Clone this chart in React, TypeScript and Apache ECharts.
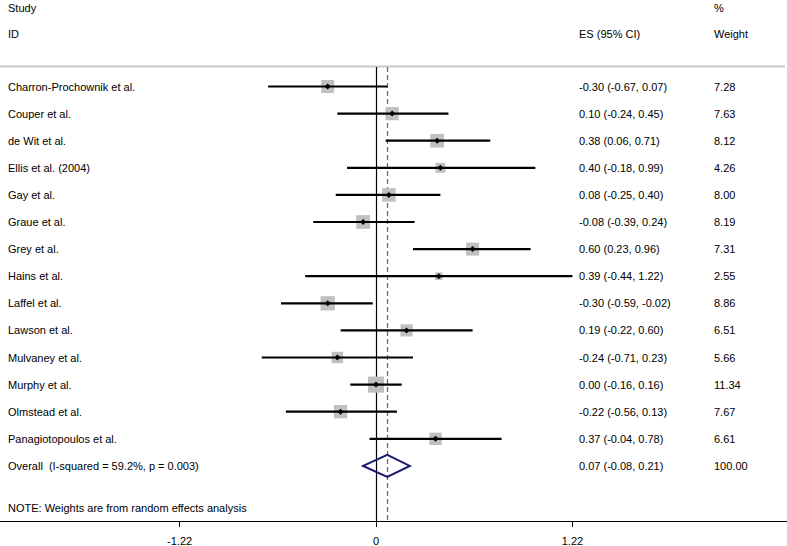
import React, { useEffect, useRef } from "react";
import * as echarts from "echarts";

const studies = [
  "Charron-Prochownik et al.",
  "Couper et al.",
  "de Wit et al.",
  "Ellis et al. (2004)",
  "Gay et al.",
  "Graue et al.",
  "Grey et al.",
  "Hains et al.",
  "Laffel et al.",
  "Lawson et al.",
  "Mulvaney et al.",
  "Murphy et al.",
  "Olmstead et al.",
  "Panagiotopoulos et al.",
];
const es = [-0.3, 0.1, 0.38, 0.4, 0.08, -0.08, 0.6, 0.39, -0.3, 0.19, -0.24, 0.0, -0.22, 0.37];
const lo = [-0.67, -0.24, 0.06, -0.18, -0.25, -0.39, 0.23, -0.44, -0.59, -0.22, -0.71, -0.16, -0.56, -0.04];
const hi = [0.07, 0.45, 0.71, 0.99, 0.4, 0.24, 0.96, 1.22, -0.02, 0.6, 0.23, 0.16, 0.13, 0.78];
const weights = [7.28, 7.63, 8.12, 4.26, 8.0, 8.19, 7.31, 2.55, 8.86, 6.51, 5.66, 11.34, 7.67, 6.61];

const overallLabel = "Overall  (I-squared = 59.2%, p = 0.003)";
const overallEs = 0.07;
const overallLo = -0.08;
const overallHi = 0.21;
const overallWeight = 100.0;

const xTicks = [-1.22, 0, 1.22];

const FONT = '11px "Liberation Sans", Arial, sans-serif';
const COL_NAME = 8;
const COL_ES = 579;
const COL_W = 714;

const fmtCI = (e: number, l: number, h: number) =>
  `${e.toFixed(2)} (${l.toFixed(2)}, ${h.toFixed(2)})`;

export default function App() {
  const ref = useRef<HTMLDivElement>(null);
  useEffect(() => {
    if (!ref.current) return;
    const chart = echarts.init(ref.current, null, { renderer: "svg" });

    const studyData = studies.map((s, i) => [es[i], i, lo[i], hi[i], weights[i]]);
    const overallData = [[overallEs, studies.length, overallLo, overallHi, overallWeight]];

    const txt = (x: number, y: number, text: string) => ({
      type: "text",
      style: { x, y, text, font: FONT, fill: "#000", verticalAlign: "middle", align: "left" },
    });

    const option: any = {
      animation: false,
      grid: { left: 0, right: 0, top: 67, bottom: 25 },
      xAxis: {
        type: "value",
        min: -376 / 161,
        max: 411 / 161,
        splitLine: { show: false },
        axisLine: { show: true, onZero: false, lineStyle: { color: "#000", width: 1 } },
        axisTick: { show: true, customValues: xTicks, length: 6, lineStyle: { color: "#000" } },
        axisLabel: {
          customValues: xTicks,
          formatter: (v: number) => (v === 0 ? "0" : v.toFixed(2)),
          color: "#000",
          fontSize: 11,
          fontFamily: '"Liberation Sans", Arial, sans-serif',
          margin: 14,
        },
      },
      yAxis: {
        type: "value",
        inverse: true,
        min: (67 - 86.5) / 27.1,
        max: (521 - 86.5) / 27.1,
        show: false,
        axisLine: { onZero: false },
        splitLine: { show: false },
      },
      graphic: [
        { type: "line", shape: { x1: 0, y1: 66.5, x2: 785, y2: 66.5 }, style: { stroke: "#c8c8c8", lineWidth: 2 }, z: 1 },
        txt(COL_NAME, 8, "Study"),
        txt(COL_NAME, 34, "ID"),
        txt(COL_W, 8, "%"),
        txt(COL_ES, 34, "ES (95% CI)"),
        txt(COL_W, 34, "Weight"),
        txt(COL_NAME, 508, "NOTE: Weights are from random effects analysis"),
      ],
      series: [
        {
          type: "custom",
          data: studyData,
          encode: { x: 0, y: 1 },
          z: 5,
          renderItem: (params: any, api: any) => {
            const e = api.value(0);
            const idx = api.value(1);
            const l = api.value(2);
            const h = api.value(3);
            const w = api.value(4);
            const c = api.coord([e, idx]);
            const pl = api.coord([l, idx]);
            const ph = api.coord([h, idx]);
            const side = 4.8 * Math.sqrt(w);
            const d = 3;
            return {
              type: "group",
              children: [
                {
                  type: "rect",
                  shape: { x: c[0] - side / 2, y: c[1] - side / 2, width: side, height: side },
                  style: { fill: "#c0c0c0" },
                },
                {
                  type: "line",
                  shape: { x1: pl[0], y1: pl[1], x2: ph[0], y2: ph[1] },
                  style: { stroke: "#000", lineWidth: 2.2 },
                },
                {
                  type: "polygon",
                  shape: { points: [[c[0] - d, c[1]], [c[0], c[1] - d], [c[0] + d, c[1]], [c[0], c[1] + d]] },
                  style: { fill: "#000" },
                },
                txt(COL_NAME, c[1], studies[params.dataIndex]),
                txt(COL_ES, c[1], fmtCI(e, l, h)),
                txt(COL_W, c[1], w.toFixed(2)),
              ],
            };
          },
          markLine: {
            silent: true,
            symbol: ["none", "none"],
            label: { show: false },
            z: 2,
            data: [
              { xAxis: 0, lineStyle: { color: "#000", type: "solid", width: 1.2 } },
              { xAxis: overallEs, lineStyle: { color: "#a3485a", type: [5, 3], width: 1.2 } },
            ],
          },
        },
        {
          type: "custom",
          data: overallData,
          encode: { x: 0, y: 1 },
          z: 6,
          renderItem: (params: any, api: any) => {
            const e = api.value(0);
            const idx = api.value(1);
            const l = api.value(2);
            const h = api.value(3);
            const w = api.value(4);
            const c = api.coord([e, idx]);
            const pl = api.coord([l, idx]);
            const ph = api.coord([h, idx]);
            const hh = 11;
            return {
              type: "group",
              children: [
                {
                  type: "polygon",
                  shape: { points: [[pl[0], c[1]], [c[0], c[1] - hh], [ph[0], c[1]], [c[0], c[1] + hh]] },
                  style: { fill: "rgba(255,255,255,0)", stroke: "#1a1a6e", lineWidth: 2 },
                },
                txt(COL_NAME, c[1], overallLabel),
                txt(COL_ES, c[1], fmtCI(e, l, h)),
                txt(COL_W, c[1], w.toFixed(2)),
              ],
            };
          },
        },
      ],
    };
    chart.setOption(option);
    return () => chart.dispose();
  }, []);
  return (
    <div
      ref={ref}
      style={{ position: "fixed", left: 0, top: 0, width: 787, height: 546, background: "#fff" }}
    />
  );
}
